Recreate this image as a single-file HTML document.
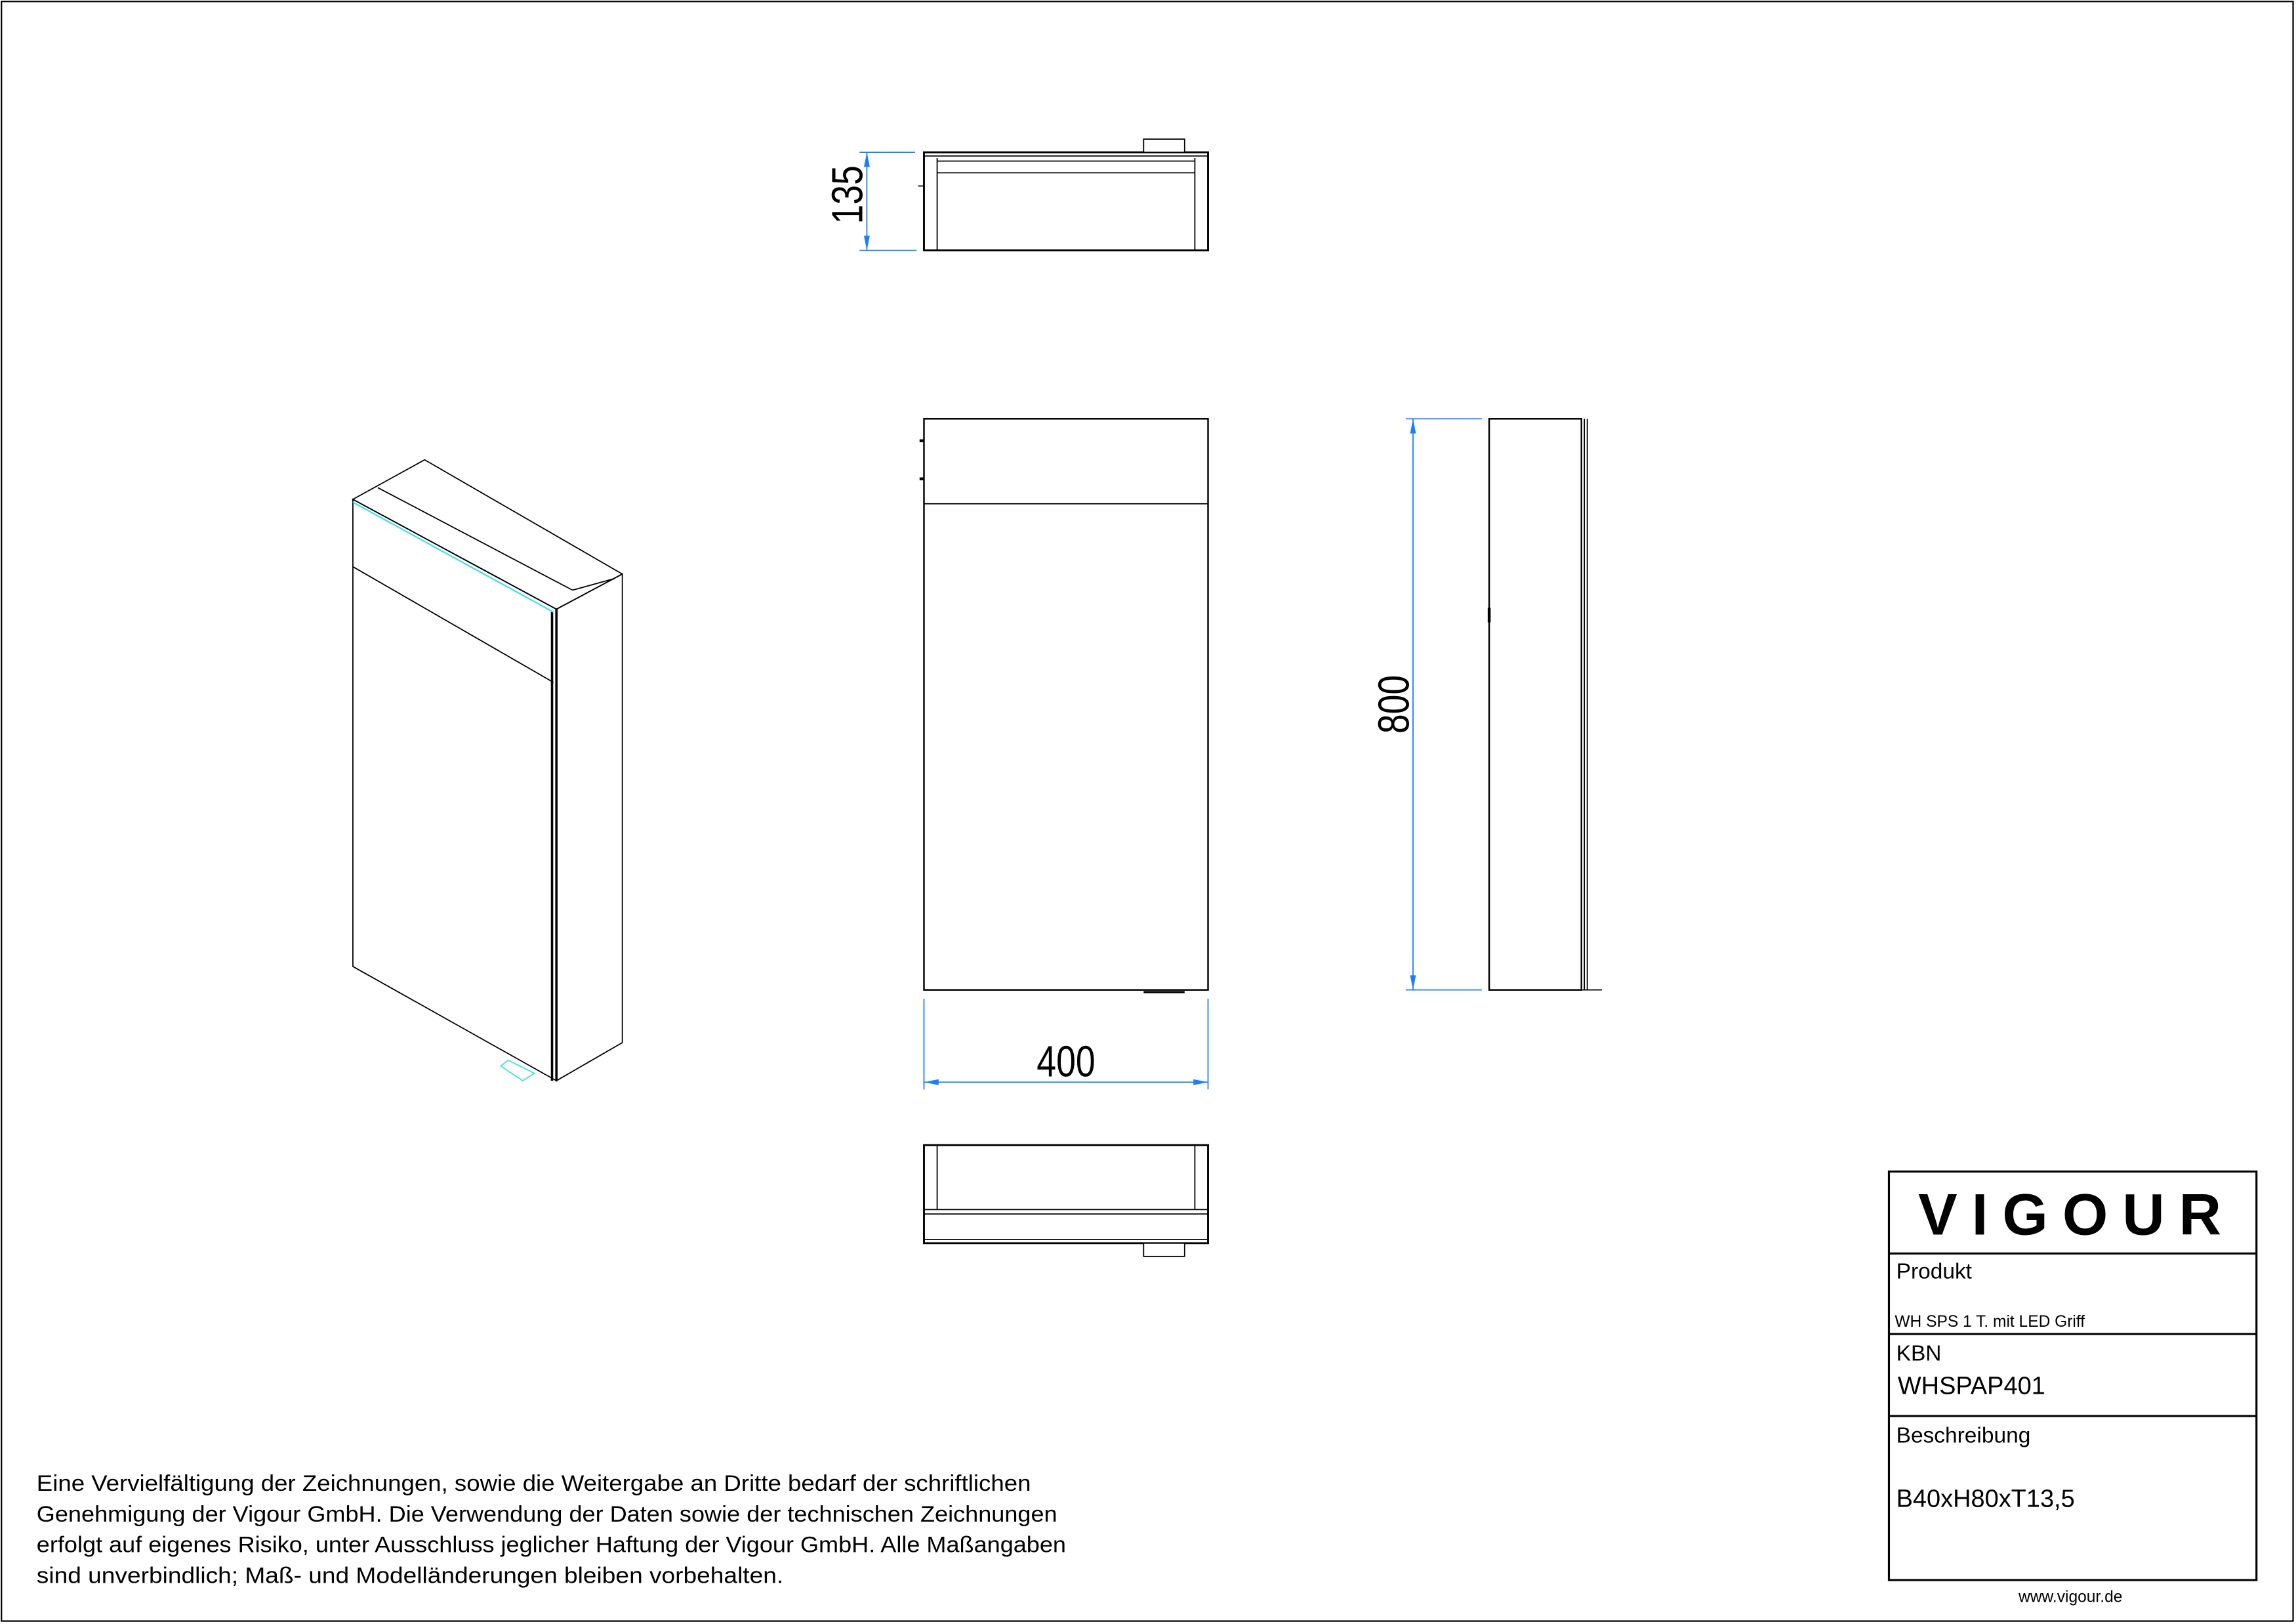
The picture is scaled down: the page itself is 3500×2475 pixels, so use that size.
<!DOCTYPE html>
<html><head><meta charset="utf-8"><style>
html,body{margin:0;padding:0;background:#fff;}
svg{display:block;}
text{font-family:"Liberation Sans",sans-serif;fill:#000;}
</style></head><body>
<svg width="3500" height="2475" viewBox="0 0 1568 1109" preserveAspectRatio="none" xmlns="http://www.w3.org/2000/svg">
<rect x="1" y="1" width="1565" height="1106" fill="none" stroke="#000" stroke-width="1"/>
<g fill="none" stroke="#000" stroke-width="0.8">
<!-- top view -->
<rect x="631" y="104" width="194" height="67" stroke-width="1.3"/>
<line x1="631" y1="106.5" x2="825" y2="106.5"/>
<line x1="640" y1="108" x2="640" y2="171"/>
<line x1="816" y1="108" x2="816" y2="171"/>
<line x1="640" y1="110" x2="816" y2="110"/>
<line x1="640" y1="118" x2="816" y2="118"/>
<rect x="781" y="95" width="28" height="9" fill="#fff"/>
<line x1="627" y1="127" x2="631" y2="127"/>
<!-- front view -->
<rect x="631" y="286" width="194" height="390" stroke-width="1.1"/>
<line x1="631" y1="344" x2="825" y2="344"/>
<line x1="628" y1="301" x2="631" y2="301" stroke-width="2"/>
<line x1="628" y1="327" x2="631" y2="327" stroke-width="2"/>
<line x1="781" y1="677.5" x2="809" y2="677.5" stroke-width="1.5"/>
<!-- side view -->
<rect x="1017" y="286" width="63" height="390" stroke-width="1.1"/>
<line x1="1082" y1="286" x2="1082" y2="676"/>
<line x1="1084" y1="286" x2="1084" y2="676"/>
<line x1="1080" y1="676" x2="1094" y2="676"/>
<line x1="1017" y1="415" x2="1017" y2="425" stroke-width="2"/>
<!-- bottom view -->
<rect x="631" y="782" width="194" height="67" stroke-width="1.3"/>
<line x1="640" y1="782" x2="640" y2="826"/>
<line x1="816" y1="782" x2="816" y2="826"/>
<line x1="631" y1="826" x2="825" y2="826"/>
<line x1="631" y1="829" x2="825" y2="829"/>
<line x1="631" y1="846.5" x2="825" y2="846.5"/>
<rect x="781" y="849" width="28" height="9" fill="#fff"/>
<!-- isometric -->
<polygon points="241,341 380,416 380,738 241,660"/>
<polygon points="380,416 425,392 425,712 380,738"/>
<polygon points="241,341 290,314 425,392 380,416"/>
<line x1="258" y1="333" x2="391" y2="403"/>
<line x1="391" y1="403" x2="420" y2="395"/>
<line x1="241" y1="387" x2="378" y2="466"/>
<line x1="377" y1="418" x2="377" y2="738" stroke-width="1.6"/>
<line x1="380" y1="416" x2="380" y2="738" stroke-width="1.6"/>
<line x1="241" y1="343" x2="378" y2="418" stroke="#3ee0e8" stroke-width="1"/>
<polygon points="342,728 347,724 365,733 357,738" stroke="#3ee0e8"/>
</g>
<!-- title block -->
<g fill="none" stroke="#000" stroke-width="1.4">
<rect x="1290" y="800" width="251" height="279"/>
<line x1="1290" y1="856" x2="1541" y2="856"/>
<line x1="1290" y1="911" x2="1541" y2="911"/>
<line x1="1290" y1="967" x2="1541" y2="967"/>
</g>
<!-- dimensions -->
<g stroke="#1a7fff" stroke-width="0.8" fill="#1a7fff">
<line x1="587" y1="104" x2="625" y2="104"/>
<line x1="587" y1="171" x2="626" y2="171"/>
<line x1="592" y1="104" x2="592" y2="171"/>
<polygon points="592,104 590,114 594,114" stroke="none"/>
<polygon points="592,171 590,161 594,161" stroke="none"/>
<line x1="631" y1="682" x2="631" y2="744"/>
<line x1="825" y1="682" x2="825" y2="744"/>
<line x1="631" y1="739" x2="825" y2="739"/>
<polygon points="631,739 641,737 641,741" stroke="none"/>
<polygon points="825,739 815,737 815,741" stroke="none"/>
<line x1="960" y1="286" x2="1012" y2="286"/>
<line x1="960" y1="676" x2="1012" y2="676"/>
<line x1="965" y1="286" x2="965" y2="676"/>
<polygon points="965,286 963,296 967,296" stroke="none"/>
<polygon points="965,676 963,666 967,666" stroke="none"/>
</g>
<text x="0" y="0" font-size="30" text-anchor="middle" transform="translate(589,133) rotate(-90) scale(0.8,1)">135</text>
<text x="0" y="0" font-size="30" text-anchor="middle" transform="translate(728,735) scale(0.8,1)">400</text>
<text x="0" y="0" font-size="30" text-anchor="middle" transform="translate(962,481) rotate(-90) scale(0.8,1)">800</text>
<text x="1310" y="843" font-size="40" font-weight="bold" textLength="207" lengthAdjust="spacing">VIGOUR</text>
<text x="1295" y="873" font-size="15">Produkt</text>
<text x="1294" y="906" font-size="11">WH SPS 1 T. mit LED  Griff</text>
<text x="1295" y="929" font-size="15">KBN</text>
<text x="1296" y="952" font-size="17">WHSPAP401</text>
<text x="1295" y="985" font-size="15">Beschreibung</text>
<text x="1295" y="1029" font-size="17">B40xH80xT13,5</text>
<text x="1414" y="1094" font-size="11" text-anchor="middle">www.vigour.de</text>
<g font-size="15.5">
<text x="25" y="1018" textLength="679" lengthAdjust="spacingAndGlyphs">Eine Vervielfältigung der Zeichnungen, sowie die Weitergabe an Dritte bedarf der schriftlichen</text>
<text x="25" y="1039" textLength="697" lengthAdjust="spacingAndGlyphs">Genehmigung der Vigour GmbH. Die Verwendung der Daten sowie der technischen Zeichnungen</text>
<text x="25" y="1060" textLength="703" lengthAdjust="spacingAndGlyphs">erfolgt auf eigenes Risiko, unter Ausschluss jeglicher Haftung der Vigour GmbH. Alle Maßangaben</text>
<text x="25" y="1081" textLength="510" lengthAdjust="spacingAndGlyphs">sind unverbindlich; Maß- und Modelländerungen bleiben vorbehalten.</text>
</g>
</svg>
</body></html>
